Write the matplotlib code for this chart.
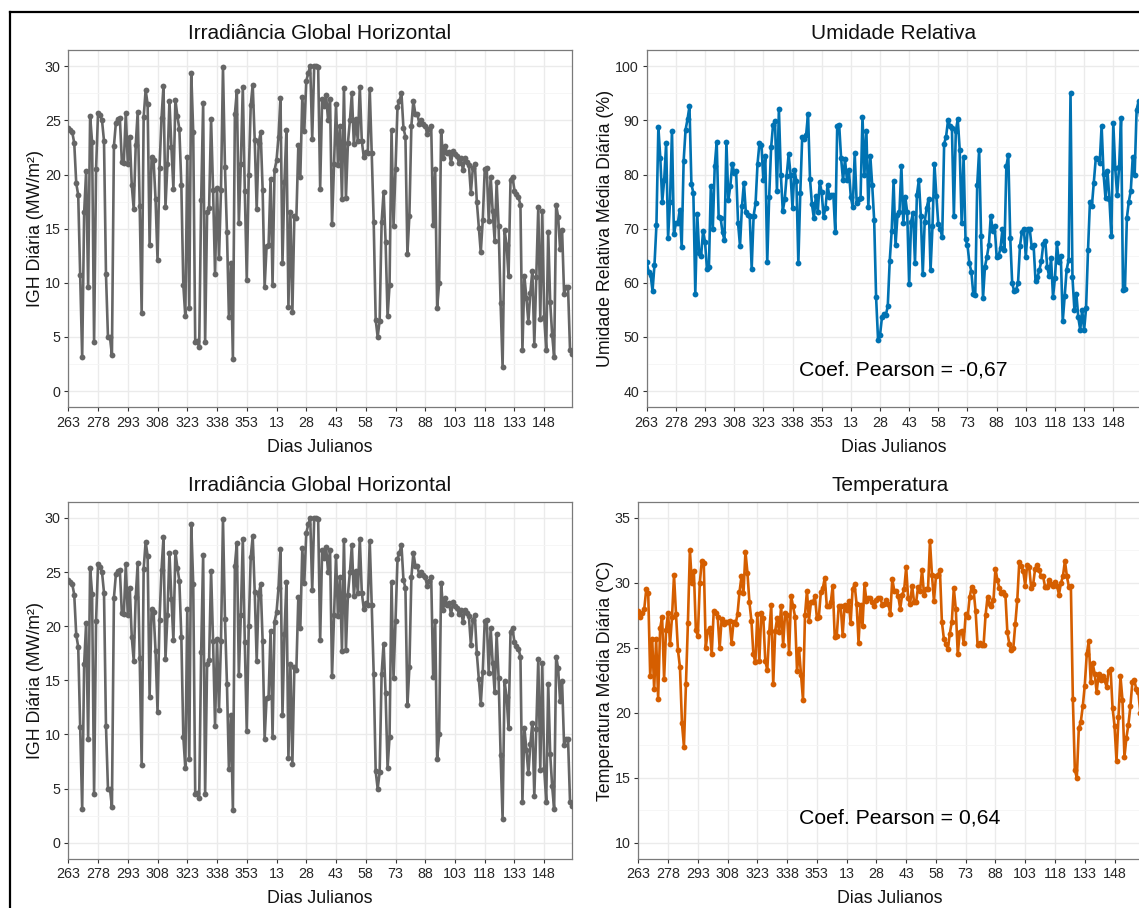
import matplotlib
matplotlib.use("Agg")
import matplotlib.pyplot as plt
from matplotlib.lines import Line2D
import numpy as np

plt.rcParams["font.family"] = ["Liberation Sans", "DejaVu Sans"]

# Daily global horizontal irradiance (MW/m²), one value per day
igh = [
    24.3, 24.1, 23.9, 22.9, 19.2, 18.1, 10.7, 3.1, 16.5, 20.3,
    9.6, 25.4, 23.0, 4.5, 20.5, 25.7, 25.5, 25.0, 23.1, 10.8,
    5.0, 5.0, 3.3, 22.6, 24.8, 25.1, 25.2, 21.2, 21.1, 25.7,
    21.0, 23.5, 19.0, 16.8, 22.7, 25.8, 17.1, 7.2, 25.3, 27.8,
    26.5, 13.5, 21.6, 21.3, 17.7, 12.1, 20.6, 25.2, 28.2, 17.0,
    21.0, 26.8, 22.5, 18.7, 26.9, 25.4, 24.2, 19.0, 9.8, 6.9,
    21.6, 7.7, 29.4, 23.9, 4.5, 4.6, 4.1, 17.6, 26.6, 4.5,
    16.5, 16.9, 25.1, 18.6, 10.8, 18.8, 12.3, 18.6, 29.9, 20.7,
    14.7, 6.8, 11.8, 3.0, 25.6, 27.7, 15.5, 21.0, 28.1, 18.5,
    10.3, 20.0, 26.4, 28.3, 23.2, 16.8, 22.9, 23.9, 18.6, 9.6,
    13.4, 13.5, 19.6, 9.8, 20.4, 21.3, 23.5, 27.1, 11.8, 19.3,
    24.1, 7.8, 16.5, 7.3, 16.2, 16.0, 22.7, 19.8, 27.2, 24.0,
    28.6, 29.4, 30.0, 23.3, 30.0, 30.0, 29.9, 18.7, 27.0, 26.3,
    27.3, 25.0, 27.0, 15.4, 21.0, 26.5, 20.9, 24.5, 17.7, 28.0,
    17.8, 22.9, 25.0, 27.5, 22.8, 25.1, 23.1, 28.1, 23.1, 21.6,
    22.1, 22.0, 27.9, 22.0, 15.6, 6.6, 5.0, 6.5, 15.6, 18.4,
    13.8, 6.9, 9.8, 24.1, 15.2, 20.5, 26.2, 26.8, 27.5, 24.3,
    23.5, 12.7, 16.2, 24.5, 26.8, 25.6, 25.6, 24.7, 25.0, 24.7,
    24.5, 23.7, 24.2, 24.5, 15.3, 20.5, 7.7, 10.0, 24.0, 21.5,
    22.6, 22.0, 22.1, 21.1, 22.2, 21.9, 21.7, 21.1, 21.5, 20.4,
    21.5, 21.2, 20.9, 18.3, 20.6, 21.0, 17.5, 15.1, 12.8, 15.8,
    20.5, 20.6, 15.7, 19.8, 16.6, 13.9, 19.3, 15.2, 8.1, 2.2,
    14.9, 13.5, 10.6, 19.5, 19.8, 18.5, 18.2, 17.9, 17.2, 3.8,
    10.6, 8.6, 6.4, 9.1, 11.1, 4.3, 10.5, 17.0, 6.7, 16.6,
    6.8, 3.8, 14.7, 8.2, 5.2, 3.1, 17.2, 16.1, 13.1, 14.9,
    9.0, 9.6, 9.6, 3.8, 3.4,
]

# Daily mean relative humidity (%)
umidade = [
    63.8, 62.0, 61.5, 58.5, 63.3, 70.6, 88.8, 83.0, 75.0, 79.0,
    85.8, 68.3, 75.0, 88.1, 69.0, 71.0, 71.0, 73.5, 66.6, 82.5,
    88.3, 90.2, 92.6, 78.2, 76.6, 58.0, 72.7, 65.5, 65.0, 69.6,
    67.6, 62.5, 62.9, 77.9, 70.0, 81.6, 86.0, 72.2, 72.0, 69.3,
    67.9, 86.0, 75.3, 77.8, 82.0, 80.3, 80.6, 71.0, 66.8, 74.1,
    78.5, 73.0, 72.5, 72.3, 62.6, 72.4, 74.7, 81.9, 85.8, 85.5,
    79.0, 83.4, 63.8, 75.9, 85.0, 89.2, 89.8, 77.0, 92.1, 80.0,
    73.3, 75.4, 79.8, 83.7, 80.0, 73.8, 80.9, 78.8, 63.6, 76.6,
    87.0, 86.5, 87.3, 91.2, 79.2, 74.5, 71.9, 76.0, 73.1, 78.6,
    76.7, 72.2, 73.9, 78.1, 75.9, 76.3, 76.3, 69.3, 89.0, 89.2,
    83.0, 78.9, 82.8, 79.0, 80.8, 75.8, 74.0, 83.9, 74.8, 75.5,
    75.7, 90.7, 80.0, 88.0, 74.0, 83.5, 78.0, 71.6, 57.3, 49.5,
    50.3, 53.6, 54.3, 54.0, 55.7, 64.0, 69.5, 78.8, 66.9, 72.5,
    73.0, 81.6, 71.0, 75.9, 73.0, 59.7, 71.3, 72.9, 63.7, 76.3,
    79.0, 72.4, 61.7, 71.3, 73.8, 75.5, 62.3, 70.4, 82.0, 76.0,
    70.8, 70.0, 68.5, 85.7, 87.0, 90.0, 89.0, 88.5, 72.4, 88.0,
    90.2, 84.6, 71.0, 83.3, 68.0, 67.0, 63.6, 62.0, 57.9, 57.8,
    78.0, 84.5, 68.7, 57.2, 63.0, 64.8, 67.0, 72.4, 69.6, 70.4,
    64.8, 65.0, 66.4, 70.0, 66.0, 81.5, 83.6, 68.3, 59.9, 58.5,
    58.7, 59.9, 66.8, 69.4, 70.0, 64.8, 70.0, 70.0, 66.7, 67.0,
    60.4, 61.0, 62.4, 64.0, 67.2, 67.8, 63.0, 61.2, 64.5, 57.4,
    60.8, 67.3, 63.8, 65.0, 52.9, 57.5, 62.4, 64.2, 95.0, 61.0,
    55.0, 58.0, 53.6, 51.3, 55.0, 51.3, 55.3, 66.0, 75.0, 74.2,
    78.5, 83.0, 82.9, 82.1, 89.0, 80.1, 75.6, 80.7, 75.5, 68.6,
    89.5, 81.2, 76.2, 81.4, 90.4, 58.6, 58.8, 72.0, 75.0, 77.0,
    83.2, 80.0, 92.0, 93.5, 90.0,
]

# Daily mean temperature (ºC)
temperatura = [
    27.8, 27.4, 27.7, 28.0, 29.5, 29.2, 22.8, 25.7, 21.8, 25.7,
    21.1, 26.5, 27.4, 22.6, 26.4, 27.7, 25.3, 27.4, 30.6, 27.6,
    24.8, 23.5, 19.2, 17.4, 22.2, 26.9, 32.5, 30.0, 30.9, 26.4,
    25.9, 30.0, 31.7, 31.5, 25.0, 26.3, 26.5, 24.5, 27.8, 27.7,
    27.4, 25.0, 27.2, 26.8, 27.0, 27.0, 27.1, 25.4, 27.0, 26.8,
    27.6, 29.3, 30.5, 29.2, 32.4, 30.8, 28.5, 27.1, 24.5, 23.9,
    27.6, 24.0, 27.7, 27.3, 24.0, 23.3, 26.2, 28.3, 22.2, 26.3,
    27.3, 26.2, 28.2, 25.2, 27.7, 27.5, 24.6, 29.0, 28.2, 27.4,
    23.2, 24.9, 22.9, 21.0, 27.5, 29.4, 27.1, 28.5, 28.5, 29.0,
    27.3, 27.4, 29.3, 29.6, 30.4, 28.2, 28.2, 28.5, 29.8, 25.8,
    25.9, 28.2, 28.2, 26.0, 28.3, 27.9, 28.6, 26.9, 29.5, 29.9,
    28.4, 25.4, 28.3, 26.7, 29.9, 28.6, 28.8, 28.8, 28.5, 28.2,
    28.7, 28.8, 28.8, 28.3, 28.4, 28.7, 28.4, 27.6, 30.3, 29.4,
    29.4, 29.0, 28.0, 29.1, 29.5, 31.2, 28.8, 28.4, 29.8, 28.5,
    28.5, 29.7, 29.4, 31.0, 29.1, 29.5, 29.5, 33.2, 30.6, 28.6,
    30.5, 30.6, 31.0, 27.0, 25.7, 25.3, 24.9, 26.1, 27.0, 29.6,
    28.0, 24.5, 26.2, 26.3, 25.4, 27.6, 27.4, 28.9, 29.7, 29.4,
    27.8, 25.2, 25.4, 25.2, 25.2, 27.5, 28.9, 28.4, 28.2, 28.7,
    31.1, 30.2, 29.6, 29.2, 29.3, 29.1, 26.2, 25.3, 24.8, 25.0,
    26.8, 28.7, 31.6, 31.3, 30.9, 29.8, 31.4, 31.2, 29.6, 29.9,
    31.1, 31.4, 31.0, 30.5, 30.5, 29.7, 29.7, 30.2, 29.9, 29.8,
    30.1, 29.8, 29.1, 30.0, 30.5, 31.7, 30.5, 29.7, 29.8, 21.1,
    15.6, 15.0, 18.8, 19.3, 20.5, 22.1, 24.5, 25.5, 22.4, 23.8,
    23.0, 21.6, 23.0, 22.5, 22.8, 22.5, 22.0, 23.2, 23.4, 20.4,
    19.0, 16.3, 19.7, 22.8, 21.0, 16.6, 18.1, 19.1, 20.5, 22.4,
    22.5, 21.8, 21.6, 20.0, 19.8,
]

# Julian-day labels shown every 15 days along the record
dias_labels = ["263", "278", "293", "308", "323", "338", "353", "13", "28",
               "43", "58", "73", "88", "103", "118", "133", "148"]
dias_pos = [15 * i for i in range(len(dias_labels))]

pearson_umidade = "-0,67"
pearson_temperatura = "0,64"

W, H = 1139, 908
fig = plt.figure(figsize=(W / 100, H / 100), dpi=100)
fig.patch.set_facecolor("white")

TXT = "#111111"
TICK_TXT = "#262626"


def panel(x0, x1, y0, y1):
    return fig.add_axes([x0 / W, 1 - y1 / H, (x1 - x0) / W, (y1 - y0) / H])


def style(ax, values, color, yticks, ylim):
    x = np.arange(len(values))
    ax.plot(x, values, "-o", color=color, lw=1.9, ms=4.2, mew=0, zorder=3)
    ax.set_xlim(0, len(values) - 1)
    ax.set_xticks(dias_pos)
    ax.set_xticklabels(dias_labels)
    ax.set_yticks(yticks)
    step = yticks[1] - yticks[0]
    ax.set_yticks([t + step / 2 for t in [yticks[0] - step] + list(yticks)], minor=True)
    ax.set_ylim(*ylim)
    ax.grid(which="major", color="#EBEBEB", lw=1.0)
    ax.grid(which="minor", axis="y", color="#F5F5F5", lw=0.6)
    ax.set_axisbelow(True)
    for s in ax.spines.values():
        s.set_color("#7a7a7a")
        s.set_linewidth(0.9)
    ax.tick_params(which="major", direction="out", length=2.9, width=0.8,
                   color="#333333", labelsize=10.3, labelcolor=TICK_TXT)
    ax.tick_params(axis="x", pad=3.2)
    ax.tick_params(axis="y", pad=2.6)
    ax.tick_params(which="minor", length=0)


# top row
ax1 = panel(68.3, 572.0, 50.0, 407.3)
style(ax1, igh, "#666666", [0, 5, 10, 15, 20, 25, 30], (-1.5, 31.5))
ax2 = panel(646.7, 1140.5, 50.0, 407.3)
style(ax2, umidade, "#0072B2", [40, 50, 60, 70, 80, 90, 100], (37, 103))
ax2.text(132, 43.8, f"Coef. Pearson = {pearson_umidade}", ha="center", va="center",
         fontsize=15.3, color="black")

# bottom row
ax3 = panel(68.3, 572.0, 501.7, 859.0)
style(ax3, igh, "#666666", [0, 5, 10, 15, 20, 25, 30], (-1.5, 31.5))
ax4 = panel(638.3, 1142.3, 501.7, 859.0)
style(ax4, temperatura, "#D55E00", [10, 15, 20, 25, 30, 35], (8.75, 36.25))
ax4.text(131.5, 11.9, f"Coef. Pearson = {pearson_temperatura}", ha="center", va="center",
         fontsize=15.3, color="black")


# titles and axis labels
def ftext(x, y, s, **kw):
    fig.text(x / W, 1 - y / H, s, color=TXT, **kw)


ftext(320, 39, "Irradiância Global Horizontal", fontsize=15, ha="center", va="baseline")
ftext(894, 39, "Umidade Relativa", fontsize=15, ha="center", va="baseline")
ftext(320, 490.7, "Irradiância Global Horizontal", fontsize=15, ha="center", va="baseline")
ftext(890, 490.7, "Temperatura", fontsize=15, ha="center", va="baseline")

ftext(320, 451.7, "Dias Julianos", fontsize=12.8, ha="center", va="baseline")
ftext(894, 451.7, "Dias Julianos", fontsize=12.8, ha="center", va="baseline")
ftext(320, 903.4, "Dias Julianos", fontsize=12.8, ha="center", va="baseline")
ftext(890, 903.4, "Dias Julianos", fontsize=12.8, ha="center", va="baseline")

ftext(35.5, 228.7, "IGH Diária (MW/m²)", fontsize=12.8, rotation=90, ha="center", va="center")
ftext(605.5, 228.7, "Umidade Relativa Média Diária (%)", fontsize=12.8, rotation=90,
      ha="center", va="center")
ftext(35.5, 680.4, "IGH Diária (MW/m²)", fontsize=12.8, rotation=90, ha="center", va="center")
ftext(605.5, 680.4, "Temperatura Média Diária (ºC)", fontsize=12.8, rotation=90,
      ha="center", va="center")

# outer frame lines along the top and left edges
fig.add_artist(Line2D([9.8 / W, 1.0], [1 - 12 / H, 1 - 12 / H], color="black", lw=1.6))
fig.add_artist(Line2D([9.8 / W, 9.8 / W], [0.0, 1 - 12 / H], color="black", lw=1.6))

fig.savefig("out.png", dpi=100, facecolor="white")
